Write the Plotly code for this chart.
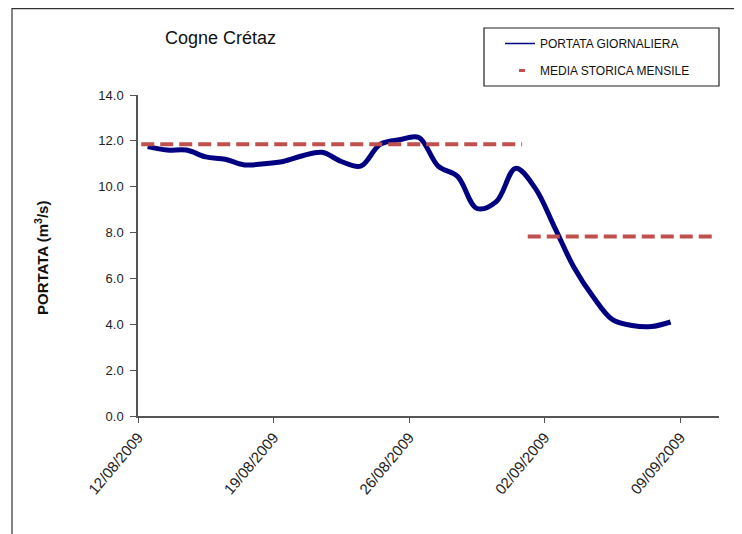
import plotly.graph_objects as go

# ---- data ----
dates = ["2009-08-%02d 12:00" % d for d in range(12, 32)] + ["2009-09-%02d 12:00" % d for d in range(1, 9)]
portata = [11.75, 11.6, 11.6, 11.3, 11.2, 10.95, 11.0, 11.1, 11.35, 11.5,
           11.1, 10.9, 11.85, 12.05, 12.15, 10.9, 10.45, 9.05, 9.35, 10.8,
           9.95, 8.25, 6.5, 5.2, 4.2, 3.95, 3.9, 4.1]

media_aug_x = ["2009-08-12 04:00", "2009-08-31 20:00"]
media_aug_y = [11.85, 11.85]
media_sep_x = ["2009-09-01 03:00", "2009-09-10 20:00"]
media_sep_y = [7.83, 7.83]

tick_dates = ["2009-08-12", "2009-08-19", "2009-08-26", "2009-09-02", "2009-09-09"]
tick_labels = ["12/08/2009", "19/08/2009", "26/08/2009", "02/09/2009", "09/09/2009"]

BLUE = "#000080"
RED = "#C0504D"
FONT = "Liberation Sans, Arial, sans-serif"

OFF = 8  # page body margin
# plot area in page pixels
L, R, T, B = 138, 719, 95, 416
W, H = 742 - OFF, 534 - OFF
def px(x):
    return (x - L) / (R - L)
def py(y):
    return (B - y) / (B - T)

fig = go.Figure()
fig.add_trace(go.Scatter(x=dates, y=portata, mode="lines",
                         line=dict(color=BLUE, width=5, shape="spline", smoothing=1.0),
                         showlegend=False, hoverinfo="skip"))
fig.add_trace(go.Scatter(x=media_aug_x, y=media_aug_y, mode="lines",
                         line=dict(color=RED, width=4, dash="13px,6px"),
                         showlegend=False))
fig.add_trace(go.Scatter(x=media_sep_x, y=media_sep_y, mode="lines",
                         line=dict(color=RED, width=4, dash="13px,6px"),
                         showlegend=False))
# legend entries
fig.add_trace(go.Scatter(x=[None], y=[None], mode="lines", name="PORTATA GIORNALIERA",
                         line=dict(color=BLUE, width=1.5), legendgroup="a"))
fig.add_trace(go.Scatter(x=[None], y=[None], mode="lines", name="MEDIA STORICA MENSILE",
                         line=dict(color=RED, width=3, dash="0px,14px,6px,30px"), legendgroup="b"))

fig.update_layout(
    width=W, height=H,
    margin=dict(l=L - OFF, r=742 - R, t=T - OFF, b=534 - B, pad=0),
    paper_bgcolor="white", plot_bgcolor="white",
    font=dict(family=FONT, size=12, color="#222222"),
    title=dict(text="Cogne Crétaz", x=(165 - OFF) / W, xanchor="left", xref="container",
               y=1 - (38 - OFF) / H, yanchor="middle", yref="container",
               font=dict(family=FONT, size=18, color="#111111")),
    legend=dict(x=px(500), xanchor="left", y=py(29), yanchor="top",
                bgcolor="rgba(0,0,0,0)", borderwidth=0,
                font=dict(family=FONT, size=12, color="#111111"),
                tracegroupgap=8),
    xaxis=dict(type="date", range=["2009-08-12", "2009-09-11"],
               tickmode="array", tickvals=tick_dates, ticktext=tick_labels,
               tickangle=-50, ticks="outside", ticklen=5, tickcolor="#555555",
               showline=True, linecolor="#555555", linewidth=1.5,
               showgrid=False, zeroline=False,
               tickfont=dict(family=FONT, size=15, color="#222222")),
    yaxis=dict(range=[0, 14], dtick=2, tickformat=".1f",
               ticks="outside", ticklen=6, tickcolor="#555555", ticklabelstandoff=4,
               showline=True, linecolor="#555555", linewidth=1.5,
               showgrid=False, zeroline=False,
               tickfont=dict(family=FONT, size=13, color="#222222")),
    shapes=[
        dict(type="rect", xref="paper", yref="paper",
             x0=px(12), x1=px(735), y0=py(560), y1=py(8.7),
             line=dict(color="#333333", width=1.2), fillcolor="rgba(0,0,0,0)", layer="below"),
        dict(type="rect", xref="paper", yref="paper",
             x0=px(484), x1=px(719), y0=py(86), y1=py(28),
             line=dict(color="#222222", width=1.2), fillcolor="white", layer="below"),
    ],
    annotations=[
        dict(text="<b>PORTATA (m<sup>3</sup>/s)</b>", textangle=-90,
             xref="paper", yref="paper", x=px(42), y=py(258),
             xanchor="center", yanchor="middle", showarrow=False,
             font=dict(family=FONT, size=15, color="#111111")),
    ],
)

fig.write_html("out.html")
